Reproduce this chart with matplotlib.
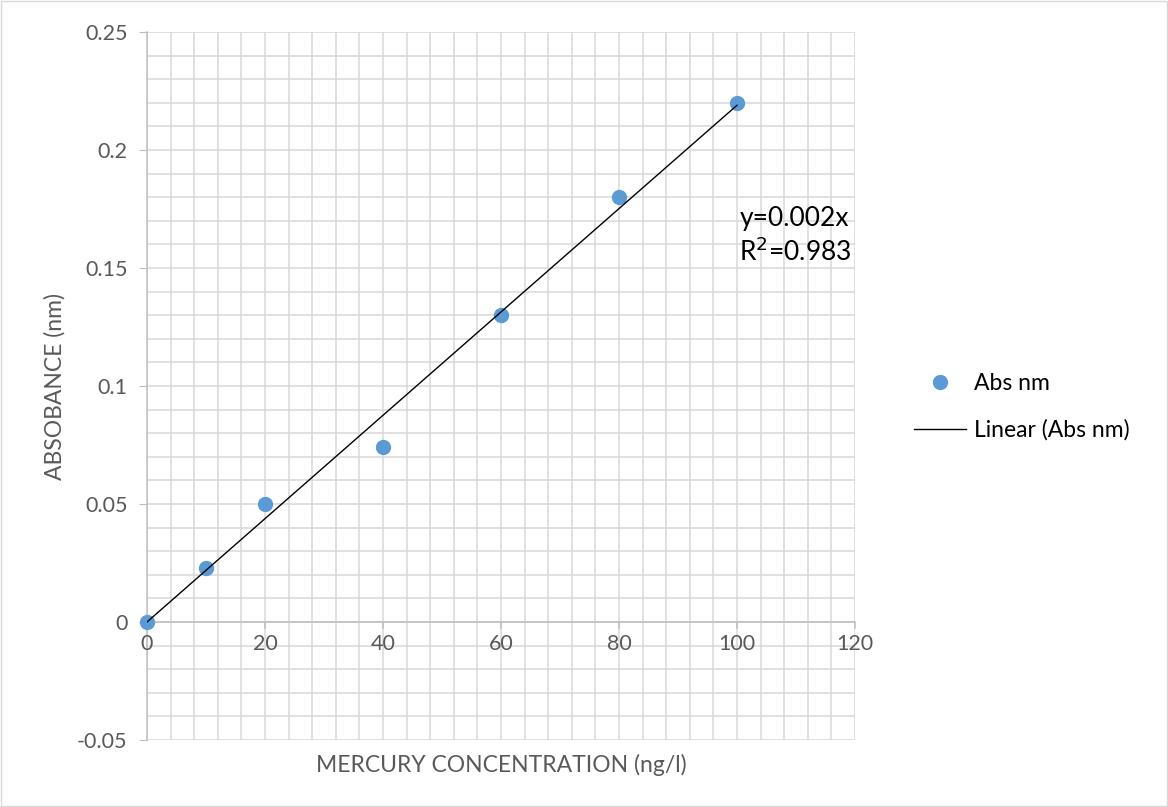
import numpy as np
import matplotlib.pyplot as plt
from matplotlib.ticker import MultipleLocator, FormatStrFormatter
from matplotlib.lines import Line2D

plt.rcParams['font.family'] = ['Lato', 'DejaVu Sans']

conc = np.array([0, 10, 20, 40, 60, 80, 100])
absorb = np.array([0, 0.023, 0.05, 0.074, 0.13, 0.18, 0.22])
trend_label = 'y=0.002x\nR$^2$=0.983'

# linear trendline forced through the origin
slope = np.sum(conc * absorb) / np.sum(conc ** 2)

fig = plt.figure(figsize=(11.68, 8.07), dpi=100)
ax = fig.add_axes([147 / 1168, 1 - 740 / 807, 708 / 1168, 708 / 807])

ax.set_xlim(0, 120)
ax.set_ylim(-0.05, 0.25)
ax.xaxis.set_major_locator(MultipleLocator(20))
ax.xaxis.set_minor_locator(MultipleLocator(4))
ax.yaxis.set_major_locator(MultipleLocator(0.05))
ax.yaxis.set_minor_locator(MultipleLocator(0.01))
ax.yaxis.set_major_formatter(FormatStrFormatter('%g'))
ax.grid(which='both', color='#d9d9d9', lw=1.1, zorder=0)
ax.set_axisbelow(True)

for s in ['top', 'right', 'bottom']:
    ax.spines[s].set_visible(False)
ax.spines['left'].set_color('#bfbfbf')
ax.spines['left'].set_linewidth(1.1)
ax.axhline(0, color='#bfbfbf', lw=1.1, zorder=1)

ax.tick_params(axis='y', which='major', length=6, color='#bfbfbf', labelsize=15.5, labelcolor='#595959', pad=8)
ax.tick_params(axis='y', which='minor', length=0)
ax.tick_params(axis='x', which='both', length=0, labelbottom=False)

# x labels sit under the zero line
for xv in range(0, 121, 20):
    ax.plot([xv, xv], [0, -0.0025], color='#bfbfbf', lw=1.1, zorder=1, clip_on=False)
    ax.text(xv, -0.0052, str(xv), ha='center', va='top', fontsize=15.5, color='#595959')

ax.plot(conc, absorb, 'o', color='#5b9bd5', ms=10, zorder=3, clip_on=False)
ax.plot([0, 100], [0, slope * 100], color='black', lw=1, zorder=4)

ax.text(100.4, 0.1635, trend_label, fontsize=19, ha='left', va='center', linespacing=1.3)

ax.set_xlabel('MERCURY CONCENTRATION (ng/l)', fontsize=16.5, color='#595959', labelpad=10)
ax.set_ylabel('ABSOBANCE (nm)', fontsize=16.5, color='#595959', labelpad=8)

handles = [Line2D([], [], marker='o', color='#5b9bd5', ls='none', ms=10),
           Line2D([], [], color='black', lw=1)]
fig.legend(handles, ['Abs nm', 'Linear (Abs nm)'], loc='center left',
           bbox_to_anchor=(893 / 1168, 1 - 407 / 807), frameon=False, fontsize=16.5,
           handlelength=2.3, handletextpad=0.35, labelspacing=1.1)

fig.patches.append(plt.Rectangle((0.001, 0.001), 0.998, 0.998, transform=fig.transFigure,
                                 fill=False, edgecolor='#d9d9d9', lw=1))

fig.savefig('out.png', dpi=100)
